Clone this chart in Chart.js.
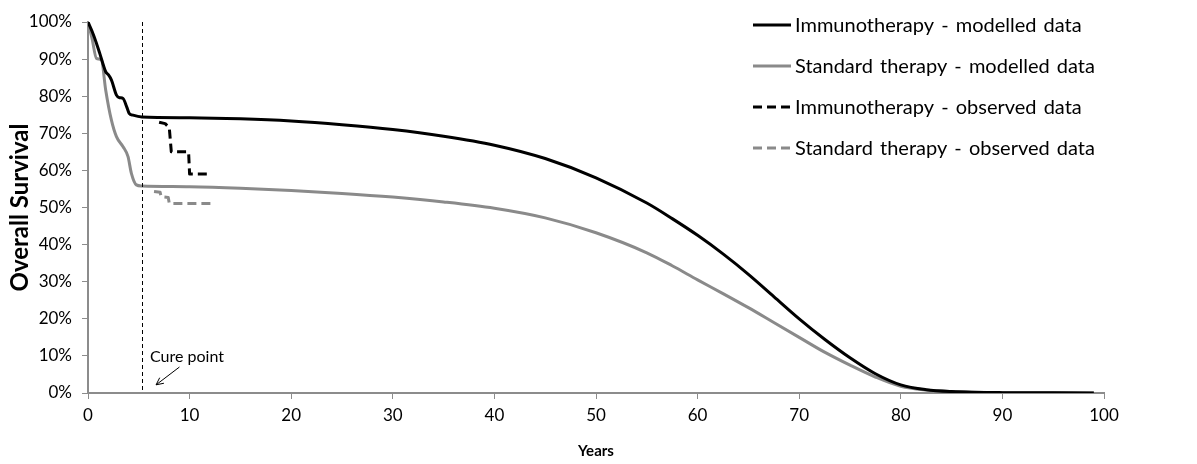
<!DOCTYPE html>
<html>
<head>
<meta charset="utf-8">
<script src="https://cdn.jsdelivr.net/npm/chart.js@4/dist/chart.umd.min.js"></script>
<style>
  html, body { margin: 0; padding: 0; background: #fff; }
  #wrap { width: 1197px; height: 464px; position: relative; }
</style>
</head>
<body>
<div id="wrap"><canvas id="os-chart"></canvas></div>
<script>
// Survival curves (years, % alive)
const immunoModelYears = [0, 0.4, 0.83, 1.15, 1.5, 1.74, 2.0, 2.3, 2.8, 3.1, 3.45, 3.8, 4.05, 4.43, 5.3, 10, 15, 20, 25, 30, 35, 40, 45, 50, 55, 57.5, 60, 62.5, 65, 67.5, 70, 72.5, 75, 77.5, 80, 82.5, 85, 90, 95, 99];
const immunoModelOS    = [100, 97.5, 94.3, 91.6, 88.5, 86.6, 85.8, 84.4, 80.3, 79.6, 79.4, 77.2, 75.4, 74.9, 74.4, 74.2, 73.9, 73.3, 72.3, 71.0, 69.2, 66.8, 63.2, 58.0, 51.2, 47.0, 42.5, 37.5, 32.0, 26.0, 20.0, 14.5, 9.5, 5.2, 2.2, 0.9, 0.4, 0.1, 0.05, 0];

const stdModelYears = [0, 0.4, 0.83, 1.32, 1.74, 2.3, 2.8, 3.45, 3.94, 4.27, 4.76, 5.3, 10, 15, 20, 25, 30, 35, 40, 45, 50, 55, 57.5, 60, 62.5, 65, 67.5, 70, 72.5, 75, 77.5, 80, 82.5, 85, 90, 95, 99];
const stdModelOS    = [100, 95.5, 90.2, 89.8, 81.7, 73.6, 69.1, 66.4, 63.7, 59.2, 56.1, 55.8, 55.6, 55.2, 54.6, 53.8, 52.8, 51.5, 49.8, 47.2, 43.2, 37.8, 34.3, 30.5, 26.8, 23.0, 19.0, 15.0, 11.0, 7.5, 4.3, 1.8, 0.8, 0.4, 0.1, 0.05, 0];

const immunoObsYears = [7.0, 7.6, 8.0, 8.2, 9.9, 10.0, 11.7];
const immunoObsOS    = [73.0, 72.6, 71.5, 65.0, 65.0, 59.0, 59.0];

const stdObsYears = [6.5, 7.1, 7.2, 7.9, 8.0, 12.2];
const stdObsOS    = [54.3, 54.1, 52.9, 52.7, 51.1, 51.1];

const seriesLabels = [
    'Immunotherapy - modelled data',
    'Standard therapy - modelled data',
    'Immunotherapy - observed data',
    'Standard therapy - observed data'
];

const xTicks = [0, 10, 20, 30, 40, 50, 60, 70, 80, 90, 100];
const yTicks = [0, 10, 20, 30, 40, 50, 60, 70, 80, 90, 100];
const cureYear = 5.3;
const cureLabel = 'Cure point';

const BLACK = '#000000';
const GREY = '#8a8a8a';
const AXIS = '#8c8c8c';
const FONT = 'Lato, "Open Sans", sans-serif';

function toPoints(xs, ys) {
    return xs.map((x, i) => ({ x: x, y: ys[i] }));
}

// Legend drawn inside the plot, top right
const insideLegend = {
    id: 'insideLegend',
    afterDraw(chart) {
        const ctx = chart.ctx;
        chart.data.datasets.forEach((ds, i) => {
            const y = 25 + i * 41;
            ctx.save();
            ctx.strokeStyle = ds.borderColor;
            ctx.lineWidth = 3;
            ctx.setLineDash(ds.borderDash && ds.borderDash.length ? [9, 5] : []);
            ctx.beginPath();
            ctx.moveTo(753, y);
            ctx.lineTo(791, y);
            ctx.stroke();
            ctx.setLineDash([]);
            ctx.fillStyle = '#000';
            ctx.font = '20px ' + FONT;
            if ('wordSpacing' in ctx) ctx.wordSpacing = '2px';
            ctx.textBaseline = 'middle';
            ctx.fillText(ds.label, 795, y + 1);
            ctx.restore();
        });
    }
};

// Dashed vertical line at the cure point + arrow and label
const curePoint = {
    id: 'curePoint',
    afterDatasetsDraw(chart) {
        const { ctx, scales: { x, y }, chartArea } = chart;
        const px = Math.round(x.getPixelForValue(cureYear)) + 0.5;
        ctx.save();
        ctx.strokeStyle = '#000';
        ctx.lineWidth = 1;
        ctx.setLineDash([4, 3]);
        ctx.beginPath();
        ctx.moveTo(px, chartArea.top);
        ctx.lineTo(px, chartArea.bottom);
        ctx.stroke();
        ctx.setLineDash([]);

        // arrow
        const tx = x.getPixelForValue(cureYear + 3.7), ty = y.getPixelForValue(7.0);
        const hx = x.getPixelForValue(cureYear + 1.4), hy = y.getPixelForValue(2.2);
        ctx.beginPath();
        ctx.moveTo(tx, ty);
        ctx.lineTo(hx, hy);
        ctx.stroke();
        const ang = Math.atan2(hy - ty, hx - tx);
        ctx.beginPath();
        ctx.moveTo(hx - 8 * Math.cos(ang - 0.45), hy - 8 * Math.sin(ang - 0.45));
        ctx.lineTo(hx, hy);
        ctx.lineTo(hx - 8 * Math.cos(ang + 0.45), hy - 8 * Math.sin(ang + 0.45));
        ctx.stroke();

        ctx.fillStyle = '#000';
        ctx.font = '16px ' + FONT;
        ctx.textBaseline = 'alphabetic';
        ctx.fillText(cureLabel, x.getPixelForValue(cureYear + 0.8), y.getPixelForValue(8.3));
        ctx.restore();
    }
};

new Chart(document.getElementById('os-chart'), {
    type: 'line',
    data: {
        datasets: [
            { label: seriesLabels[0], data: toPoints(immunoModelYears, immunoModelOS), borderColor: BLACK, borderWidth: 3, cubicInterpolationMode: 'monotone' },
            { label: seriesLabels[1], data: toPoints(stdModelYears, stdModelOS), borderColor: GREY, borderWidth: 3, cubicInterpolationMode: 'monotone' },
            { label: seriesLabels[2], data: toPoints(immunoObsYears, immunoObsOS), borderColor: BLACK, borderWidth: 3, borderDash: [9, 5] },
            { label: seriesLabels[3], data: toPoints(stdObsYears, stdObsOS), borderColor: GREY, borderWidth: 3, borderDash: [9, 5] }
        ]
    },
    options: {
        responsive: true,
        maintainAspectRatio: false,
        animation: false,
        layout: { padding: { top: 22, right: 93, left: 0, bottom: 0 } },
        elements: {
            point: { radius: 0 },
            line: { tension: 0, fill: false, borderJoinStyle: 'round' }
        },
        plugins: {
            legend: { display: false },
            tooltip: { enabled: false }
        },
        scales: {
            x: {
                type: 'linear',
                min: 0,
                max: 100,
                afterBuildTicks: (s) => { s.ticks = xTicks.map(v => ({ value: v })); },
                afterFit: (s) => { s.height = 71; },
                grid: { drawOnChartArea: false, color: AXIS, tickLength: 6, tickColor: AXIS },
                border: { color: AXIS, width: 2 },
                ticks: { color: '#000', font: { family: FONT, size: 17 }, padding: 6, maxRotation: 0 },
                title: { display: true, text: 'Years', color: '#000', font: { family: FONT, size: 15, weight: 'bold' }, padding: { top: 3 } }
            },
            y: {
                min: 0,
                max: 100,
                afterBuildTicks: (s) => { s.ticks = yTicks.map(v => ({ value: v })); },
                afterFit: (s) => { s.width = 88; },
                grid: { drawOnChartArea: false, color: AXIS, tickLength: 6, tickColor: AXIS },
                border: { color: AXIS, width: 2 },
                ticks: { color: '#000', font: { family: FONT, size: 17 }, padding: 10, callback: v => v + '%' },
                title: { display: true, text: 'Overall Survival', color: '#000', font: { family: FONT, size: 24, weight: 'bold' }, padding: { top: 6, bottom: 0 } }
            }
        }
    },
    plugins: [curePoint, insideLegend]
});
</script>
</body>
</html>
